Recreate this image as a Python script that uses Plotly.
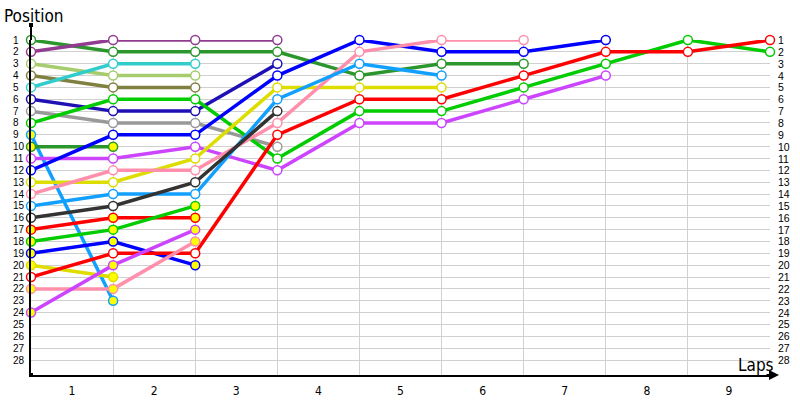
import plotly.graph_objects as go

# ---- data: position of each driver at each lap (index 0 = starting grid) ----
laps = [0, 1, 2, 3, 4, 5, 6, 7, 8, 9]
lap_labels = ["1", "2", "3", "4", "5", "6", "7", "8", "9"]
positions = list(range(1, 29))

d01 = [1, 2, 2, 2, 4, 3, 3]
d02 = [2, 1, 1, 1]
d03 = [3, 4, 4]
d04 = [4, 5, 5]
d05 = [5, 3, 3]
d06 = [6, 7, 7, 3]
d07 = [7, 8, 8, 10]
d08 = [8, 6, 6, 11, 7, 7, 5, 3, 1, 2]
d09 = [9, 23]
d10 = [10, 10]
d11 = [11, 11, 10, 12, 8, 8, 6, 4]
d12 = [12, 9, 9, 4, 1, 2, 2, 1]
d13 = [13, 13, 11, 5, 5, 5]
d14 = [14, 12, 12, 8, 2, 1, 1]
d15 = [15, 14, 14, 6, 3, 4]
d16 = [16, 15, 13, 7]
d17 = [17, 16, 16]
d18 = [18, 17, 15]
d19 = [19, 18, 20]
d20 = [20, 21]
d21 = [21, 19, 19, 9, 6, 6, 4, 2, 2, 1]
d22 = [22, 22, 18]
d24 = [24, 20, 17]

series = [d01, d02, d03, d04, d05, d06, d07, d08, d09, d10, d11, d12,
          d13, d14, d15, d16, d17, d18, d19, d20, d21, d22, d24]

# styling (kept separate from data)
colors = ["#2b962b", "#913c91", "#a6cc6e", "#808040", "#33cccc", "#1e10b4",
          "#999999", "#00cc00", "#12a0ff", "#2b962b", "#cc44ff", "#0000ff",
          "#dddd00", "#ff8fab", "#12a0ff", "#333333", "#ff0000", "#00cc00",
          "#0000ff", "#dddd00", "#ff0000", "#ff8fab", "#cc44ff"]
fills = ["white"] * 8 + ["#ffff00", "#ffff00"] + ["white"] * 6 + \
        ["#ffff00"] * 4 + ["white", "#ffff00", "#ffff00"]

fig = go.Figure()

# lines first
for s, c in zip(series, colors):
    fig.add_trace(go.Scatter(x=laps[:len(s)], y=s, mode="lines",
                             line=dict(color=c, width=3.5),
                             cliponaxis=False, hoverinfo="skip", showlegend=False))
# markers on top
for s, c, f in zip(series, colors, fills):
    fig.add_trace(go.Scatter(x=laps[:len(s)], y=s, mode="markers",
                             marker=dict(symbol="circle", size=9, color=f,
                                         line=dict(color=c, width=1.5)),
                             cliponaxis=False, showlegend=False))

L, R, T, B = 31, 30, 40, 25
W, H = 800, 400
pw, ph = W - L - R, H - T - B
grid = "#d0d0d0"
font = "DejaVu Sans Condensed, DejaVu Sans, sans-serif"
small = "Liberation Sans Narrow, Liberation Sans, sans-serif"

fig.update_layout(
    width=W, height=H,
    margin=dict(l=L, r=R, t=T, b=B, pad=0, autoexpand=False),
    plot_bgcolor="white", paper_bgcolor="white",
    font=dict(family=font, color="#000000"),
    xaxis=dict(range=[0, 9], tickmode="array", automargin=False,
               tickvals=[v + 0.5 for v in laps[:-1]], ticktext=lap_labels,
               showgrid=False, zeroline=False,
               showline=True, linecolor="black", linewidth=2,
               ticks="outside", ticklen=4, tickcolor="rgba(0,0,0,0)",
               tickfont=dict(size=12),
               minor=dict(tickmode="array", tickvals=laps[1:], showgrid=True,
                          gridcolor=grid, gridwidth=1, ticks="")),
    yaxis=dict(range=[1 + 335 / (320 / 27), 1], tickmode="array", automargin=False,
               tickvals=positions, showticklabels=False,
               showgrid=True, gridcolor=grid, gridwidth=1, zeroline=False,
               showline=True, linecolor="black", linewidth=2, ticks=""),
)

ann = []
for p in positions:
    ann.append(dict(xref="paper", yref="y", x=(11 - L) / pw, y=p, text=str(p),
                    xanchor="left", yanchor="middle", showarrow=False,
                    font=dict(size=10, family=small)))
    ann.append(dict(xref="paper", yref="y", x=(776 - L) / pw, y=p, text=str(p),
                    xanchor="left", yanchor="middle", showarrow=False,
                    font=dict(size=10.5, family=small)))
ann.append(dict(xref="paper", yref="paper", x=(2 - L) / pw, y=1 + (40 - 16) / ph,
                text="Position", xanchor="left", yanchor="middle", showarrow=False,
                font=dict(size=17, family=font)))
ann.append(dict(xref="paper", yref="paper", x=(776 - L) / pw, y=(375 - 365) / ph,
                text="Laps", xanchor="right", yanchor="middle", showarrow=False,
                font=dict(size=17, family=font)))
# arrow on x axis
ann.append(dict(xref="paper", yref="paper", x=(779 - L) / pw, y=0,
                axref="pixel", ayref="pixel", ax=-14, ay=0, text="",
                showarrow=True, arrowhead=2, arrowsize=1, arrowwidth=2,
                arrowcolor="black"))
fig.update_layout(annotations=ann)

shapes = [
    # extension of y axis above the plot
    dict(type="line", xref="paper", yref="paper", x0=0, x1=0,
         y0=1, y1=1 + 15 / ph, line=dict(color="black", width=2)),
    # dot at top of y axis
    dict(type="rect", xref="paper", yref="paper", xsizemode="pixel", ysizemode="pixel",
         xanchor=0, yanchor=1 + 15 / ph, x0=-2, x1=2, y0=-2, y1=2,
         fillcolor="black", line=dict(width=0)),
    # dot at origin
    dict(type="rect", xref="paper", yref="paper", xsizemode="pixel", ysizemode="pixel",
         xanchor=0, yanchor=0, x0=-2, x1=2, y0=-2, y1=2,
         fillcolor="black", line=dict(width=0)),
]
fig.update_layout(shapes=shapes)

fig.write_html("out.html", config={"displayModeBar": False},
               post_script="document.body.style.margin='0px';document.body.style.overflow='hidden';")
